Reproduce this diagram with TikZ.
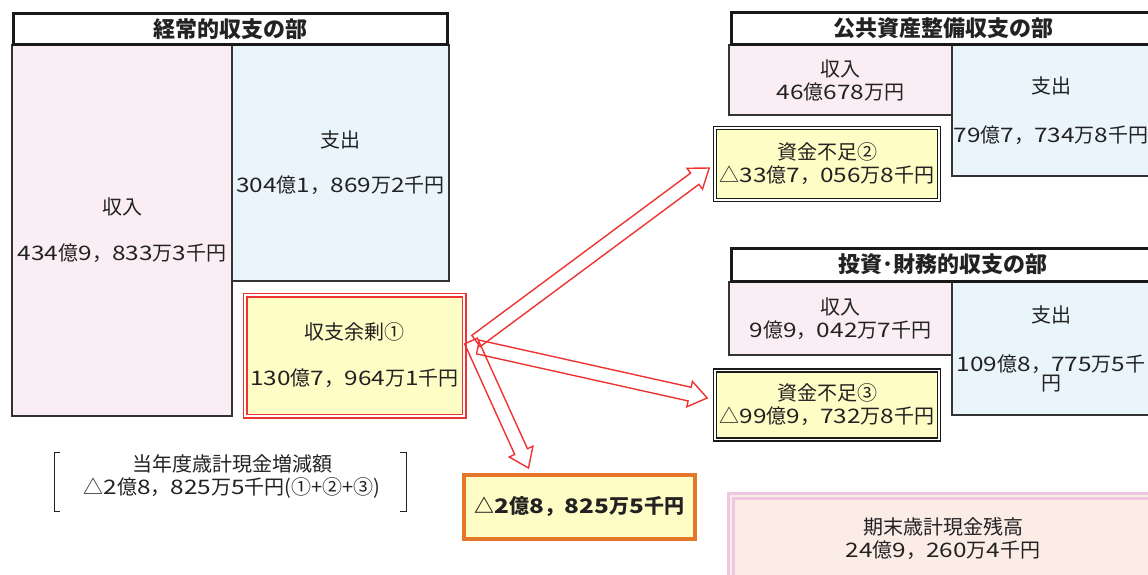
\documentclass[tikz,border=0pt]{standalone}
\usepackage{fontspec}
\setmainfont{Noto Sans CJK JP}
\newfontfamily\numfont[FakeStretch=1.22]{Noto Sans CJK JP}
\newcommand\nm[1]{{\numfont#1}}
\usetikzlibrary{calc}
\definecolor{pinkfill}{HTML}{FAEEF4}
\definecolor{bluefill}{HTML}{E9F5FB}
\definecolor{yellowfill}{HTML}{FFFDC6}
\definecolor{peachfill}{HTML}{FCECE6}
\definecolor{peachline}{HTML}{EEC6E2}
\definecolor{arrowred}{HTML}{EE3333}
\definecolor{orangeline}{HTML}{E5772A}
\definecolor{txt}{HTML}{222222}
\definecolor{cellline}{HTML}{333333}
\tikzset{
  body/.style={font=\fontsize{20}{23}\selectfont, align=center, text=txt},
  cell/.style={body, draw=cellline, line width=1.5pt, inner sep=0pt},
  pinkcell/.style={cell, fill=pinkfill},
  bluecell/.style={cell, fill=bluefill},
  hdr/.style={draw=black!90, line width=3pt, fill=white, inner sep=0pt,
    font=\fontsize{22}{24}\selectfont\bfseries, text=txt},
  shortbox/.style={body, draw=black!90, line width=1.6pt, double=white,
    double distance=1.5pt, fill=yellowfill, inner sep=0pt},
  surbox/.style={body, draw=arrowred, line width=1.8pt, double=white,
    double distance=1.4pt, fill=yellowfill, inner sep=0pt},
  deltabox/.style={body, draw=orangeline, line width=4pt, fill=yellowfill,
    inner sep=0pt, font=\fontsize{20}{23}\selectfont\bfseries},
  endbox/.style={body, draw=peachline, line width=2.5pt, double=peachfill,
    double distance=2.5pt, fill=peachfill, inner sep=0pt},
  hollow/.style={draw=arrowred, line width=1.4pt, line join=miter},
  brace/.style={draw=txt, line width=0.8pt},
}
\newcommand\hollowarrow[2]{%
  \coordinate (ah) at ($(#2)!18pt!(#1)$);
  \draw[hollow] ($(#1)!7pt!90:(#2)$) -- ($(ah)!7pt!90:(#2)$)
    -- ($(ah)!13pt!90:(#2)$) -- (#2) -- ($(ah)!13pt!-90:(#2)$)
    -- ($(ah)!7pt!-90:(#2)$) -- ($(#1)!7pt!-90:(#2)$) -- cycle;}
\begin{document}
\begin{tikzpicture}[x=1pt, y=-1pt]
\useasboundingbox (0,0) rectangle (1148,574);
\clip (0,0) rectangle (1148,574);

% --- 経常的収支の部 ---
\node[pinkcell, minimum width=220pt, minimum height=371pt] (incL) at (122,230.5)
  {収入\\[23pt]\nm{434}億\nm{9}，\nm{833}万\nm{3}千円};
\node[bluecell, minimum width=217pt, minimum height=236pt] (expL) at (340.5,163)
  {支出\\[22pt]\nm{304}億\nm{1}，\nm{869}万\nm{2}千円};
\node[hdr, minimum width=434pt, minimum height=31pt] (hdrL) at (230.5,29) {経常的収支の部};
\node[surbox, minimum width=219pt, minimum height=121pt] (sur) at (354.5,355.5)
  {収支余剰①\\[23pt]\nm{130}億\nm{7}，\nm{964}万\nm{1}千円};

% --- 公共資産整備収支の部 ---
\node[pinkcell, minimum width=223pt, minimum height=70pt] (incR1) at (840.5,80)
  {収入\\\nm{46}億\nm{678}万円};
\node[bluecell, minimum width=198pt, minimum height=131pt] (expR1) at (1051,110.5)
  {支出\\[26pt]\nm{79}億\nm{7}，\nm{734}万\nm{8}千円};
\node[hdr, minimum width=424pt, minimum height=32pt] (hdrR1) at (943,28.5) {公共資産整備収支の部};
\node[shortbox, minimum width=224pt, minimum height=72pt] (sh2) at (827,164)
  {資金不足②\\△\nm{33}億\nm{7}，\nm{056}万\nm{8}千円};

% --- 投資・財務的収支の部 ---
\node[pinkcell, minimum width=223pt, minimum height=73pt] (incR2) at (840.5,318.5)
  {収入\\\nm{9}億\nm{9}，\nm{042}万\nm{7}千円};
\node[bluecell, minimum width=198pt, minimum height=133pt] (expR2) at (1051,348.5)
  {支出\\[26pt]\nm{109}億\nm{8}，\nm{775}万\nm{5}千\\[-4pt]円};
\node[hdr, minimum width=424pt, minimum height=33pt] (hdrR2) at (943,264.5) {投資･財務的収支の部};
\node[shortbox, minimum width=224pt, minimum height=69pt] (sh3) at (827,405)
  {資金不足③\\△\nm{99}億\nm{9}，\nm{732}万\nm{8}千円};

% --- bottom ---
\node[body] (brk) at (232,476.5)
  {当年度歳計現金増減額\\△\nm{2}億\nm{8}，\nm{825}万\nm{5}千円(①+②+③)};
\draw[brace] (60,452) -- (54,452) -- (54,511) -- (60,511);
\draw[brace] (400,452) -- (406,452) -- (406,511) -- (400,511);
\node[deltabox, minimum width=231pt, minimum height=64pt] (delta) at (579.5,507)
  {△\nm{2}億\nm{8}，\nm{825}万\nm{5}千円};
\node[endbox, minimum width=424pt, minimum height=85pt] (endb) at (943,538.5)
  {期末歳計現金残高\\\nm{24}億\nm{9}，\nm{260}万\nm{4}千円};

% --- arrows ---
\coordinate (s1) at (476,341);
\coordinate (s2) at (478,347);
\coordinate (s3) at (471,341);
\coordinate (t1) at ($(sh2.west)+(-5,4)$);
\coordinate (t2) at ($(sh3.west)+(-7,-7)$);
\coordinate (t3) at ($(delta.north)+(-51,-5)$);
\hollowarrow{s1}{t1}
\hollowarrow{s2}{t2}
\hollowarrow{s3}{t3}
\end{tikzpicture}
\end{document}
